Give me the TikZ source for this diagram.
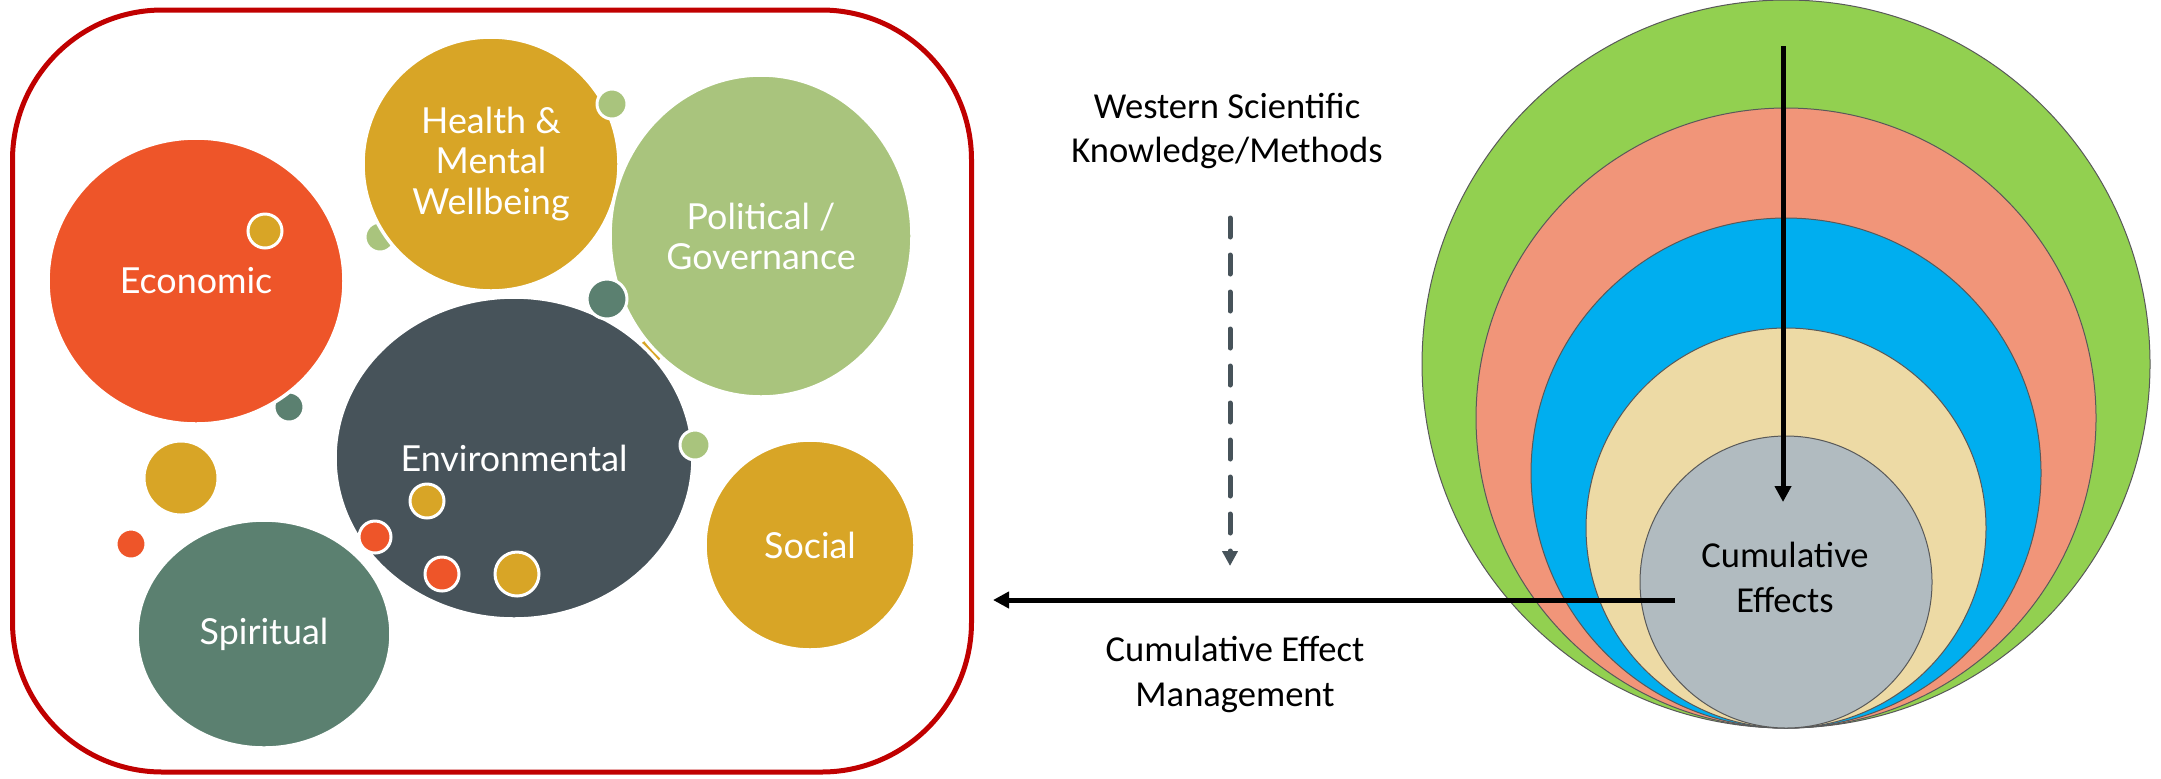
\documentclass[tikz,border=0pt]{standalone}
\usepackage{fontspec}
\setmainfont{Carlito}
\newfontfamily\bubblefont{Lato}
\usepackage{xcolor}
\usetikzlibrary{shapes.geometric, positioning, arrows.meta}

\definecolor{ecored}{HTML}{EE5529}
\definecolor{gold}{HTML}{D8A526}
\definecolor{sage}{HTML}{A9C47D}
\definecolor{slate}{HTML}{47535A}
\definecolor{spiritteal}{HTML}{5B8070}
\definecolor{framered}{HTML}{C00000}
\definecolor{lgreen}{HTML}{92D050}
\definecolor{salmon}{HTML}{F19579}
\definecolor{skyblue}{HTML}{00AEEF}
\definecolor{sand}{HTML}{EDDAA5}
\definecolor{ashgrey}{HTML}{B1BBC0}

\begin{document}
\begin{tikzpicture}[
  x=0.1mm, y=-0.1mm,
  bubble/.style={ellipse,draw=white,line width=0.35mm,inner sep=0pt,text=white,align=center,
    font=\bubblefont\fontsize{10.2}{11.4}\selectfont},
  dot/.style={circle,draw=white,line width=0.3mm,inner sep=0pt},
  layer/.style={circle,draw=black!65,line width=0.1mm,inner sep=0pt},
  note/.style={align=center,font=\fontsize{10.4}{12.8}\selectfont},
  key/.style={draw,line width=0.5mm,-{Triangle[length=1.6mm,width=1.6mm]}},
  hint/.style={draw=slate,line width=0.5mm,line cap=round,dash pattern=on 1.9mm off 1.8mm,
    -{Triangle[length=1.5mm,width=1.5mm]}}
]
\useasboundingbox (0,0) rectangle (2161,778);

% Frame round the bubbles
\node[draw=framered,line width=0.5mm,rounded corners=15mm,minimum width=95.9mm,
  minimum height=76.2mm] (panel) at (492,391) {};

% Small bubbles behind the big ones
\foreach \x/\y/\r/\c [count=\i] in {289/407/15/spiritteal, 380/237/15/sage, 650/352/14/gold} {
  \node[dot,fill=\c,minimum size=\r*0.2mm] (back\i) at (\x,\y) {};
}

% Big bubbles
\node[bubble,fill=ecored,minimum width=29.6mm,minimum height=28.6mm] (econ) at (196,281) {Economic};
\node[bubble,fill=gold,minimum width=25.6mm,minimum height=25.4mm] (health) at (491,164) {Health \&\\Mental\\Wellbeing};
\node[bubble,fill=slate,minimum width=35.8mm,minimum height=32.2mm] (env) at (514,458) {Environmental};
\node[bubble,fill=sage,minimum width=30.2mm,minimum height=32.2mm] (pol) at (761,236) {Political /\\Governance};
\node[bubble,fill=gold,minimum width=21mm,minimum height=21mm] (social) at (810,545) {Social};
\node[bubble,fill=spiritteal,minimum width=25.4mm,minimum height=22.8mm] (spirit) at (264,634) {Spiritual};

% Small bubbles on top
\foreach \x/\y/\r/\c [count=\i] in {265/231/17/gold, 612/104/15/sage, 607/299/20/spiritteal,
    695/445/15/sage, 427/501/17/gold, 375/537/16/ecored, 442/574/17/ecored, 517/574/22/gold,
    181/478/37/gold, 131/544/15/ecored} {
  \node[dot,fill=\c,minimum size=\r*0.2mm] (top\i) at (\x,\y) {};
}

% Nested layers, all touching at the bottom
\foreach \r/\c [count=\i] in {364/lgreen, 310/salmon, 255/skyblue, 200/sand} {
  \node[layer,fill=\c,minimum size=\r*0.2mm] (layer\i) at (1786,728-\r) {};
}
\node[layer,fill=ashgrey,minimum size=29.2mm] (core) at (1786,582) {};
\node[note] (coretext) at (1785,577) {Cumulative\\Effects};

% Texts
\node[note] (west) at (1227,131) {Western Scientific\\Knowledge/Methods};
\node[note] (cem) at (1235,674) {Cumulative Effect\\Management};

% Arrows
\coordinate (vtop) at (1783,46);
\coordinate (vend) at (1783,502);
\coordinate (hstart) at (1675,600);
\coordinate (hend) at (993,600);
\coordinate (dtop) at (1230,218);
\coordinate (dend) at (1230,566);
\draw[key] (vtop) -- (vend);
\draw[key] (hstart) -- (hend);
\draw[hint] (dtop) -- (dend);

\end{tikzpicture}
\end{document}
